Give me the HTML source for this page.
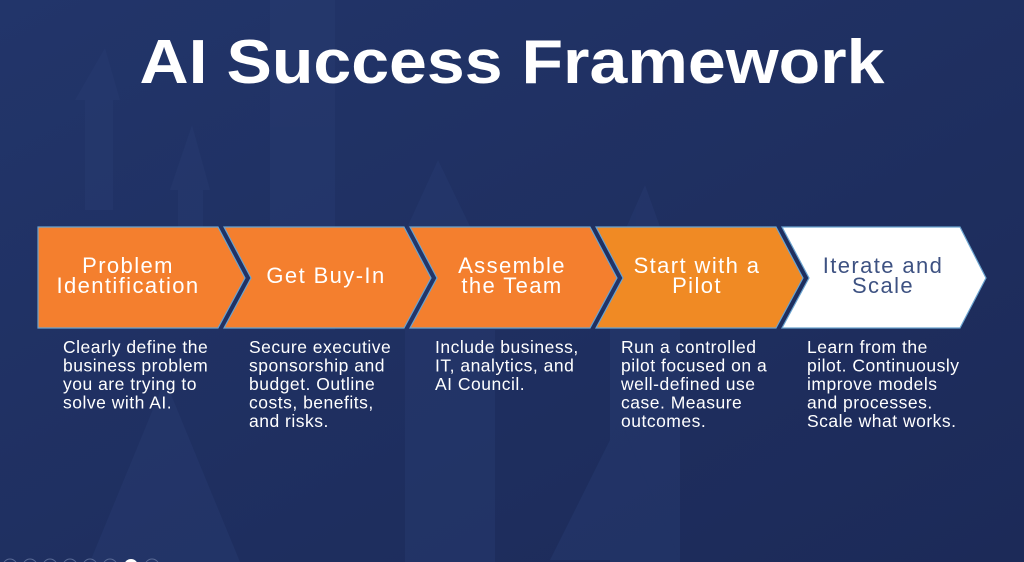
<!DOCTYPE html>
<html><head><meta charset="utf-8"><style>
html,body{margin:0;padding:0;background:#1f2d5c;}
svg{display:block;}
text{font-family:"Liberation Sans",sans-serif;}
.d{fill:#fff;font-size:17.5px;letter-spacing:0.5px;}
.l{font-size:22px;letter-spacing:1.4px;text-anchor:middle;}
</style></head><body>
<svg width="1024" height="562" viewBox="0 0 1024 562" xmlns="http://www.w3.org/2000/svg">
<defs>
<linearGradient id="bg" x1="0" y1="0" x2="1" y2="1">
<stop offset="0" stop-color="#22356a"/><stop offset="1" stop-color="#1c2a58"/>
</linearGradient>
</defs>
<rect width="1024" height="562" fill="url(#bg)"/>
<g fill="#273c72" opacity="0.45">
<polygon points="75,100 105,48 120,100 113,100 113,210 85,210 85,100"/>
<polygon points="170,190 192,125 210,190 203,190 203,300 178,300 178,190"/>
<rect x="270" y="0" width="65" height="330"/>
<polygon points="360,330 438,160 520,330 495,330 495,562 405,562 405,330"/>
<polygon points="590,310 645,185 690,310 680,310 680,562 610,562 610,310"/>
<polygon points="90,562 165,380 240,562"/>
<polygon points="550,560 620,420 680,560"/>
</g>
<g stroke="#6aa3cf" stroke-width="1.2">
<polygon points="38,227 218,227 245,278 218,328 38,328" fill="#f47f2e"/>
<polygon points="224,227 404,227 431,278 404,328 224,328 251,278" fill="#f47f2e"/>
<polygon points="410,227 590,227 617,278 590,328 410,328 437,278" fill="#f47f2e"/>
<polygon points="596,227 776,227 803,278 776,328 596,328 623,278" fill="#f08a24"/>
<polygon points="782,227 960,227 986,278 960,328 782,328 809,278" fill="#ffffff"/>
</g>
<text x="512" y="83" fill="#fff" font-size="62" font-weight="bold" text-anchor="middle" textLength="745" lengthAdjust="spacingAndGlyphs">AI Success Framework</text>
<g fill="#fff">
<text class="l" x="128" y="273">Problem</text>
<text class="l" x="128" y="293">Identification</text>
<text class="l" x="326" y="283">Get Buy-In</text>
<text class="l" x="512" y="273">Assemble</text>
<text class="l" x="512" y="293">the Team</text>
<text class="l" x="697" y="273">Start with a</text>
<text class="l" x="697" y="293">Pilot</text>
</g>
<g fill="#3e5282">
<text class="l" x="883" y="273">Iterate and</text>
<text class="l" x="883" y="293">Scale</text>
</g>
<g>
<text class="d" x="63" y="353">Clearly define the</text>
<text class="d" x="63" y="371.5">business problem</text>
<text class="d" x="63" y="390">you are trying to</text>
<text class="d" x="63" y="408.5">solve with AI.</text>

<text class="d" x="249" y="353">Secure executive</text>
<text class="d" x="249" y="371.5">sponsorship and</text>
<text class="d" x="249" y="390">budget. Outline</text>
<text class="d" x="249" y="408.5">costs, benefits,</text>
<text class="d" x="249" y="427">and risks.</text>

<text class="d" x="435" y="353">Include business,</text>
<text class="d" x="435" y="371.5">IT, analytics, and</text>
<text class="d" x="435" y="390">AI Council.</text>

<text class="d" x="621" y="353">Run a controlled</text>
<text class="d" x="621" y="371.5">pilot focused on a</text>
<text class="d" x="621" y="390">well-defined use</text>
<text class="d" x="621" y="408.5">case. Measure</text>
<text class="d" x="621" y="427">outcomes.</text>

<text class="d" x="807" y="353">Learn from the</text>
<text class="d" x="807" y="371.5">pilot. Continuously</text>
<text class="d" x="807" y="390">improve models</text>
<text class="d" x="807" y="408.5">and processes.</text>
<text class="d" x="807" y="427">Scale what works.</text>
</g>
<g fill="none" stroke="#5a6a95" stroke-width="1">
<circle cx="10" cy="566" r="7"/><circle cx="30" cy="566" r="7"/><circle cx="50" cy="566" r="7"/>
<circle cx="70" cy="566" r="7"/><circle cx="90" cy="566" r="7"/><circle cx="110" cy="566" r="7"/>
<circle cx="152" cy="566" r="7"/>
</g>
<circle cx="131" cy="566" r="7" fill="#fff"/>
</svg>
</body></html>
